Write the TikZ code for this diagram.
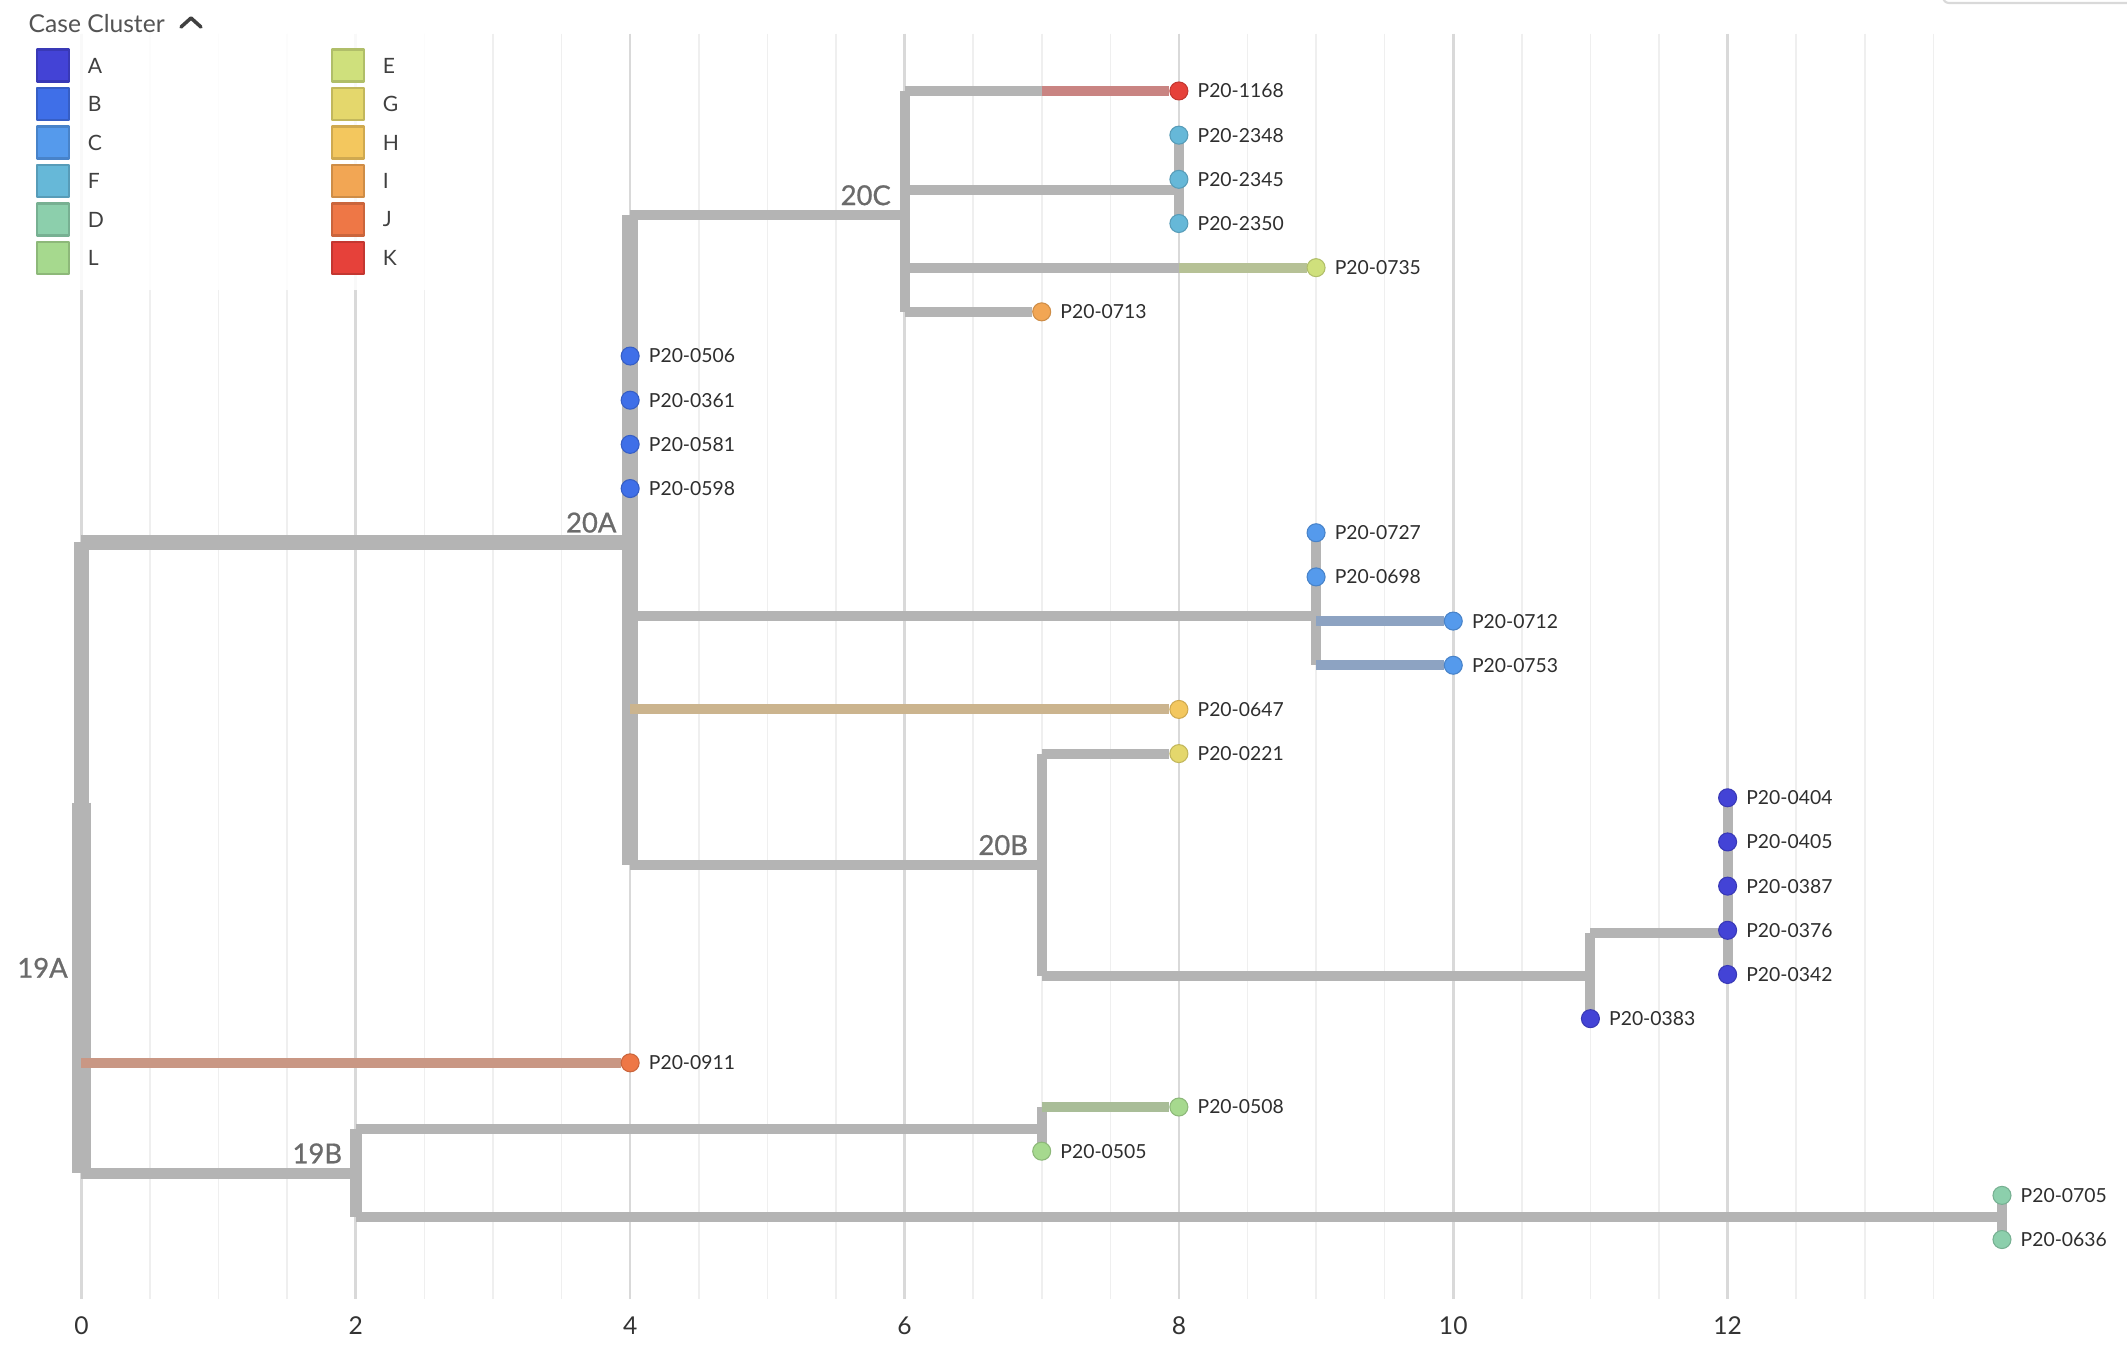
\documentclass[tikz,border=0pt]{standalone}
\usepackage{fontspec}
\setmainfont{Lato}
\usetikzlibrary{positioning}
\definecolor{clA}{HTML}{4343D6}
\definecolor{clB}{HTML}{3F6FE8}
\definecolor{clC}{HTML}{559AEC}
\definecolor{clF}{HTML}{66B8D8}
\definecolor{clD}{HTML}{8CCFAC}
\definecolor{clL}{HTML}{A6D98E}
\definecolor{clE}{HTML}{CFE07C}
\definecolor{clG}{HTML}{E4D76C}
\definecolor{clH}{HTML}{F3C75E}
\definecolor{clI}{HTML}{F2A654}
\definecolor{clJ}{HTML}{EE7746}
\definecolor{clK}{HTML}{E6413A}
\definecolor{brgray}{HTML}{B4B4B4}
\definecolor{tintK}{HTML}{C98482}
\definecolor{tintE}{HTML}{B6C196}
\definecolor{tintC}{HTML}{8DA3C2}
\definecolor{tintH}{HTML}{CBB48E}
\definecolor{tintJ}{HTML}{C99784}
\definecolor{tintL}{HTML}{A9BD98}
\definecolor{gridmin}{HTML}{EFEFEF}
\definecolor{gridmaj}{HTML}{D9D9D9}
\pgfdeclarelayer{grid}
\pgfdeclarelayer{edges}
\pgfsetlayers{grid,edges,main}

\begin{document}
\begin{tikzpicture}[x=0.01cm,y=-0.01cm,line join=round,line cap=round,
	tree/.style={xshift=0.814cm,yshift=-0.909cm,x=1.371cm,y=-0.4415cm},
	br/.style={draw=#1,line width=2.85pt},br/.default=brgray,
	leaf/.style={circle,inner sep=0pt,minimum size=0.18cm,fill=#1,draw=#1!85!black,line width=0.3pt},
	tip/.style={inner sep=0pt,text=black!82,font=\fontsize{5.5}{6}\selectfont},
	clade/.style={anchor=base east,inner sep=0pt,xshift=-0.13cm,yshift=0.1cm,text=black!58,font=\fontsize{7.8}{9}\selectfont\addfontfeature{FakeBold=0.8}},
	swatch/.style={rectangle,inner sep=0pt,minimum size=0.32cm,fill=#1,draw=#1!85!black,line width=0.6pt},
	keylbl/.style={inner sep=0pt,text=black!75,font=\fontsize{6}{7}\selectfont},
	ticklbl/.style={inner sep=0pt,text=black!80,font=\fontsize{7}{8}\selectfont}]
	\useasboundingbox (0,0) rectangle (2127,1350);
	\begin{pgfonlayer}{grid}
		\fill[white] (0,0) rectangle (2127,1350);
	\end{pgfonlayer}
	\draw[black!15,line width=0.6pt,rounded corners=0.06cm] (1943,-10) |- (2140,3);
	% legend
	\fill[white,opacity=0.85] (0,0) rectangle (445,290);
	\node[anchor=base west,inner sep=0pt,text=black!67,font=\fontsize{7}{8}\selectfont] (title) at (28,32) {Case Cluster};
	\draw[black!75,line width=1pt] (181,27) -- (191,18) -- (201,27);
	\foreach \k/\i in {A/0,B/1,C/2,F/3,D/4,L/5} {
		\node[swatch=cl\k] (s\k) at (53,65.5+38.5*\i) {};
		\node[keylbl,right=0.17cm of s\k] (k\k) {\k};
	}
	\foreach \k/\i in {E/0,G/1,H/2,I/3,J/4,K/5} {
		\node[swatch=cl\k] (s\k) at (348,65.5+38.5*\i) {};
		\node[keylbl,right=0.17cm of s\k] (k\k) {\k};
	}
	\begin{scope}[tree]
		\coordinate (n19A) at (0,20.3);
		\coordinate (nIn) at (0,16.11);
		\coordinate (n20A) at (4,10.22);
		\coordinate (n20C) at (6,2.81);
		\coordinate (n8) at (8,2.25);
		\coordinate (m1168) at (7,0);
		\coordinate (n9) at (9,11.875);
		\coordinate (n20B) at (7,17.52);
		\coordinate (n11) at (11,20.03);
		\coordinate (n12) at (12,19.06);
		\coordinate (n19B) at (2,24.5);
		\coordinate (n7) at (7,23.5);
		\coordinate (n14) at (14,25.5);
		\foreach \n/\x/\r/\c in {1168/8/0/clK,2348/8/1/clF,2345/8/2/clF,2350/8/3/clF,
			0735/9/4/clE,0713/7/5/clI,0506/4/6/clB,0361/4/7/clB,0581/4/8/clB,0598/4/9/clB,
			0727/9/10/clC,0698/9/11/clC,0712/10/12/clC,0753/10/13/clC,0647/8/14/clH,
			0221/8/15/clG,0404/12/16/clA,0405/12/17/clA,0387/12/18/clA,0376/12/19/clA,
			0342/12/20/clA,0383/11/21/clA,0911/4/22/clJ,0508/8/23/clL,0505/7/24/clL,
			0705/14/25/clD,0636/14/26/clD} {
			\node[leaf=\c] (p\n) at (\x,\r) {};
			\node[tip,right=0.085cm of p\n] (t\n) {P20-\n};
		}
		\node[clade] (l19A) at (n19A) {19A};
		\node[clade] (l20A) at (n20A) {20A};
		\node[clade] (l20C) at (n20C) {20C};
		\node[clade] (l20B) at (n20B) {20B};
		\node[clade] (l19B) at (n19B) {19B};
		\begin{pgfonlayer}{edges}
			\draw[br,line width=5.4pt] (n19A |- nIn) -- (n19A |- n19B);
			\draw[br,line width=4.3pt] (nIn |- n20A) -- (nIn |- p0911);
			\draw[br,line width=4.3pt] (nIn |- n20A) -- (n20A);
			\draw[br,line width=4.6pt] (n20A |- n20C) -- (n20A |- n20B);
			\draw[br] (n20C |- p1168) -- (n20C |- p0713);
			\draw[br] (n8 |- p2348) -- (n8 |- p2350);
			\draw[br] (n9 |- p0727) -- (n9 |- p0753);
			\draw[br] (n20B |- p0221) -- (n20B |- n11);
			\draw[br] (n11 |- n12) -- (n11 |- p0383);
			\draw[br] (n12 |- p0404) -- (n12 |- p0342);
			\draw[br,line width=3.4pt] (n19B |- n7) -- (n19B |- n14);
			\draw[br] (n7 |- p0508) -- (n7 |- p0505);
			\draw[br] (n14 |- p0705) -- (n14 |- p0636);
			\draw[br] (n20A |- n20C) -- (n20C);
			\draw[br] (n20C |- p1168) -- (p1168);
			\draw[br] (n20C |- n8) -- (n8);
			\draw[br] (n20C |- p0735) -- (p0735);
			\draw[br] (n20C |- p0713) -- (p0713);
			\draw[br] (n20A |- n9) -- (n9);
			\draw[br] (n20A |- n20B) -- (n20B);
			\draw[br] (n20B |- p0221) -- (p0221);
			\draw[br] (n20B |- n11) -- (n11);
			\draw[br] (n11 |- n12) -- (n12);
			\draw[br,line width=3.1pt] (n19A |- n19B) -- (n19B);
			\draw[br] (n19B |- n7) -- (n7);
			\draw[br] (n19B |- n14) -- (n14);
			\draw[br=tintK] (m1168) -- (p1168);
			\draw[br=tintE] (n8 |- p0735) -- (p0735);
			\draw[br=tintC] (n9 |- p0712) -- (p0712);
			\draw[br=tintC] (n9 |- p0753) -- (p0753);
			\draw[br=tintH] (n20A |- p0647) -- (p0647);
			\draw[br=tintJ] (nIn |- p0911) -- (p0911);
			\draw[br=tintL] (n7 |- p0508) -- (p0508);
		\end{pgfonlayer}
		\begin{pgfonlayer}{grid}
			\foreach \g in {0,0.5,...,13.5}
			\draw[gridmin,line width=0.45pt] (\g,-1.3) -- (\g,27.35);
			\foreach \g in {0,2,...,12}
			\draw[gridmaj,line width=0.75pt] (\g,-1.3) -- (\g,27.35);
		\end{pgfonlayer}
		\foreach \g in {0,2,...,12}
		\node[ticklbl] (x\g) at (\g,27.95) {\g};
	\end{scope}
\end{tikzpicture}
\end{document}
